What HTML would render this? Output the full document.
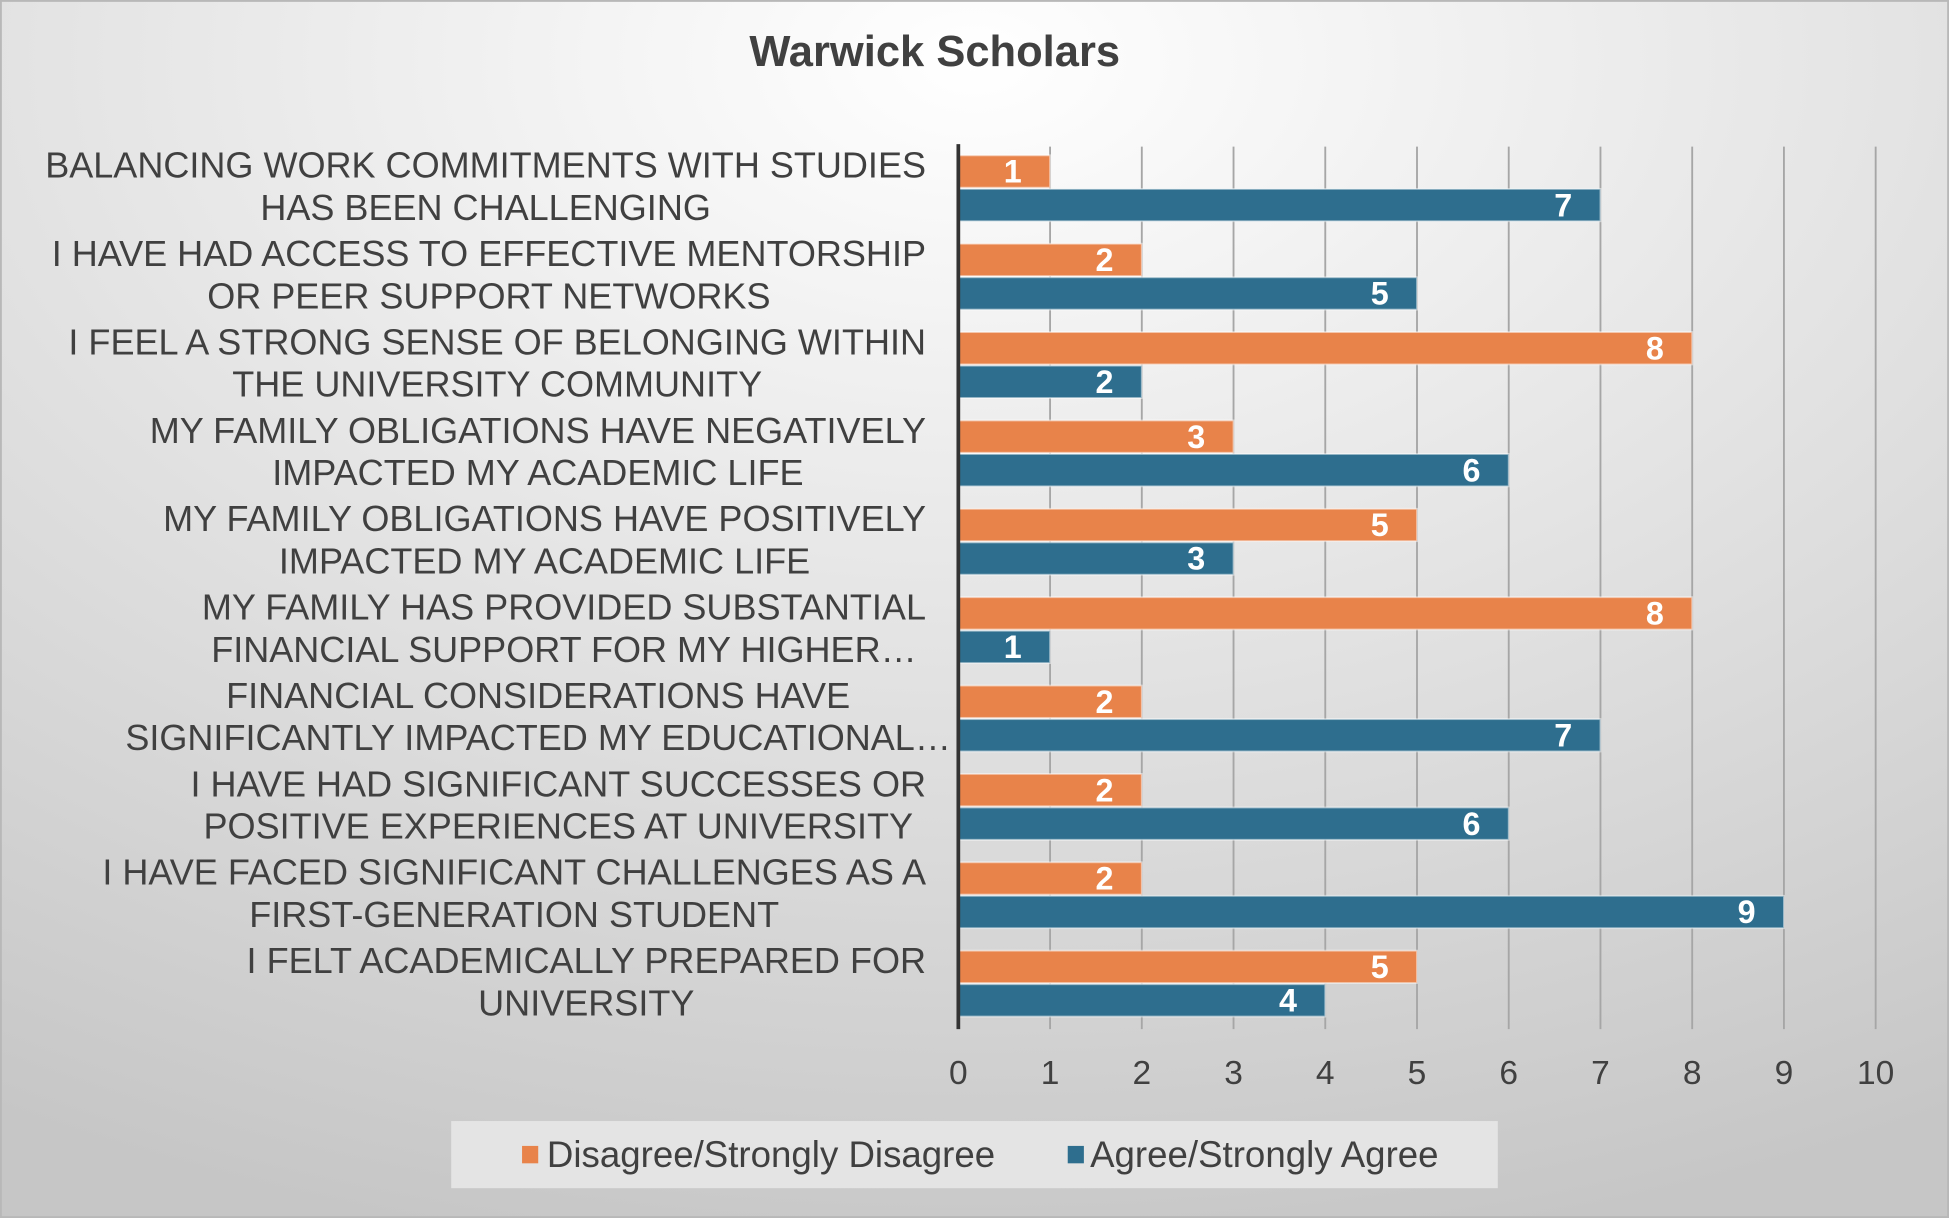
<!DOCTYPE html>
<html><head><meta charset="utf-8"><style>
html,body{margin:0;padding:0;width:1949px;height:1218px;overflow:hidden}
svg{display:block}
text{font-family:"Liberation Sans",sans-serif}
</style></head><body>
<svg id="chart" width="1949" height="1218" viewBox="0 0 1568 980" preserveAspectRatio="none">
<defs>
<radialGradient id="bg" cx="0.5" cy="0.05" r="1.0">
<stop offset="0" stop-color="#ffffff"/><stop offset="0.35" stop-color="#ebebeb"/><stop offset="1" stop-color="#c6c6c6"/>
</radialGradient>
</defs>
<rect x="0" y="0" width="1568" height="980" fill="url(#bg)" stroke="#b8b8b8" stroke-width="3"/>
<text x="752" y="53" text-anchor="middle" font-size="35" font-weight="bold" fill="#404040">Warwick Scholars</text>
<g id="grid"></g><g id="bars"></g><g id="labels"></g><g id="ticks"></g>
<rect x="363" y="902" width="842" height="54" fill="#e4e4e4"/>
<rect x="420" y="922" width="13" height="14" fill="#e8834a"/>
<text x="440" y="939" font-size="29.5" fill="#404040">Disagree/Strongly Disagree</text>
<rect x="859" y="922" width="13" height="14" fill="#2e6e8e"/>
<text x="877" y="939" font-size="29.5" fill="#404040">Agree/Strongly Agree</text>
</svg>
<script>
const categories = [
 ["BALANCING WORK COMMITMENTS WITH STUDIES","HAS BEEN CHALLENGING"],
 ["I HAVE HAD ACCESS TO EFFECTIVE MENTORSHIP","OR PEER SUPPORT NETWORKS"],
 ["I FEEL A STRONG SENSE OF BELONGING WITHIN","THE UNIVERSITY COMMUNITY"],
 ["MY FAMILY OBLIGATIONS HAVE NEGATIVELY","IMPACTED MY ACADEMIC LIFE"],
 ["MY FAMILY OBLIGATIONS HAVE POSITIVELY","IMPACTED MY ACADEMIC LIFE"],
 ["MY FAMILY HAS PROVIDED SUBSTANTIAL","FINANCIAL SUPPORT FOR MY HIGHER…"],
 ["FINANCIAL CONSIDERATIONS HAVE","SIGNIFICANTLY IMPACTED MY EDUCATIONAL…"],
 ["I HAVE HAD SIGNIFICANT SUCCESSES OR","POSITIVE EXPERIENCES AT UNIVERSITY"],
 ["I HAVE FACED SIGNIFICANT CHALLENGES AS A","FIRST-GENERATION STUDENT"],
 ["I FELT ACADEMICALLY PREPARED FOR","UNIVERSITY"]
];
const disagree = [1,2,8,3,5,8,2,2,2,5];
const agree = [7,5,2,6,3,1,7,6,9,4];
const xTicks = [0,1,2,3,4,5,6,7,8,9,10];

const NS="http://www.w3.org/2000/svg";
const X0=771, X1=1509, XMAX=10, TOP=118, PITCH=71.1, BOTTOM=828;
const xs=v=>X0+(X1-X0)*v/XMAX;
const ys=i=>TOP+PITCH*i;
function mk(tag,attrs,parent){const e=document.createElementNS(NS,tag);for(const k in attrs)e.setAttribute(k,attrs[k]);parent.appendChild(e);return e;}
const grid=document.getElementById('grid'),bars=document.getElementById('bars'),labels=document.getElementById('labels'),ticks=document.getElementById('ticks');
xTicks.forEach(t=>{
  if(t===0)return;
  const l=mk('line',{x1:xs(t),x2:xs(t),y1:TOP,y2:BOTTOM,stroke:'#a6a6a6','stroke-width':1.5},grid);
  
  
});
xTicks.forEach(t=>{
  const tx=mk('text',{x:xs(t),y:872,'text-anchor':'middle','font-size':27,fill:'#404040'},ticks);
  tx.textContent=t;
  
  
});
function bar(v,y,color,name){
  const r=mk('rect',{x:X0,y:y,width:xs(v)-X0,height:26,fill:color,stroke:'rgba(255,255,255,0.5)','stroke-width':1.5},bars);
  
  
  const t=mk('text',{x:xs(v)-30,y:y+22,'text-anchor':'middle','font-size':26,'font-weight':'bold',fill:'#fff'},bars);
  t.textContent=v;
  
  
}
categories.forEach((c,i)=>{
  const top=ys(i);
  bar(disagree[i],top+7,'#e8834a','bar-disagree-'+(i+1));
  bar(agree[i],top+34,'#2e6e8e','bar-agree-'+(i+1));
  const g=mk('g',{},labels);
  
  
  const t1=mk('text',{y:top+25,'text-anchor':'middle','font-size':29,fill:'#404040'},g);t1.textContent=c[0];
  const t2=mk('text',{y:top+59,'text-anchor':'middle','font-size':29,fill:'#404040'},g);t2.textContent=c[1];
  let w=Math.max(t1.getComputedTextLength(),t2.getComputedTextLength());
  let lim=(i===6?680:735);
  if(w>lim){t1.setAttribute('textLength',Math.min(lim,t1.getComputedTextLength()*lim/w));t2.setAttribute('textLength',Math.min(lim,t2.getComputedTextLength()*lim/w));w=lim;}
  const cx=(i===6?765:745)-w/2;
  t1.setAttribute('x',cx);t2.setAttribute('x',cx);
});
const ax=mk('line',{x1:X0,x2:X0,y1:TOP-2,y2:BOTTOM,stroke:'#333','stroke-width':3},bars);


</script>
</body></html>
